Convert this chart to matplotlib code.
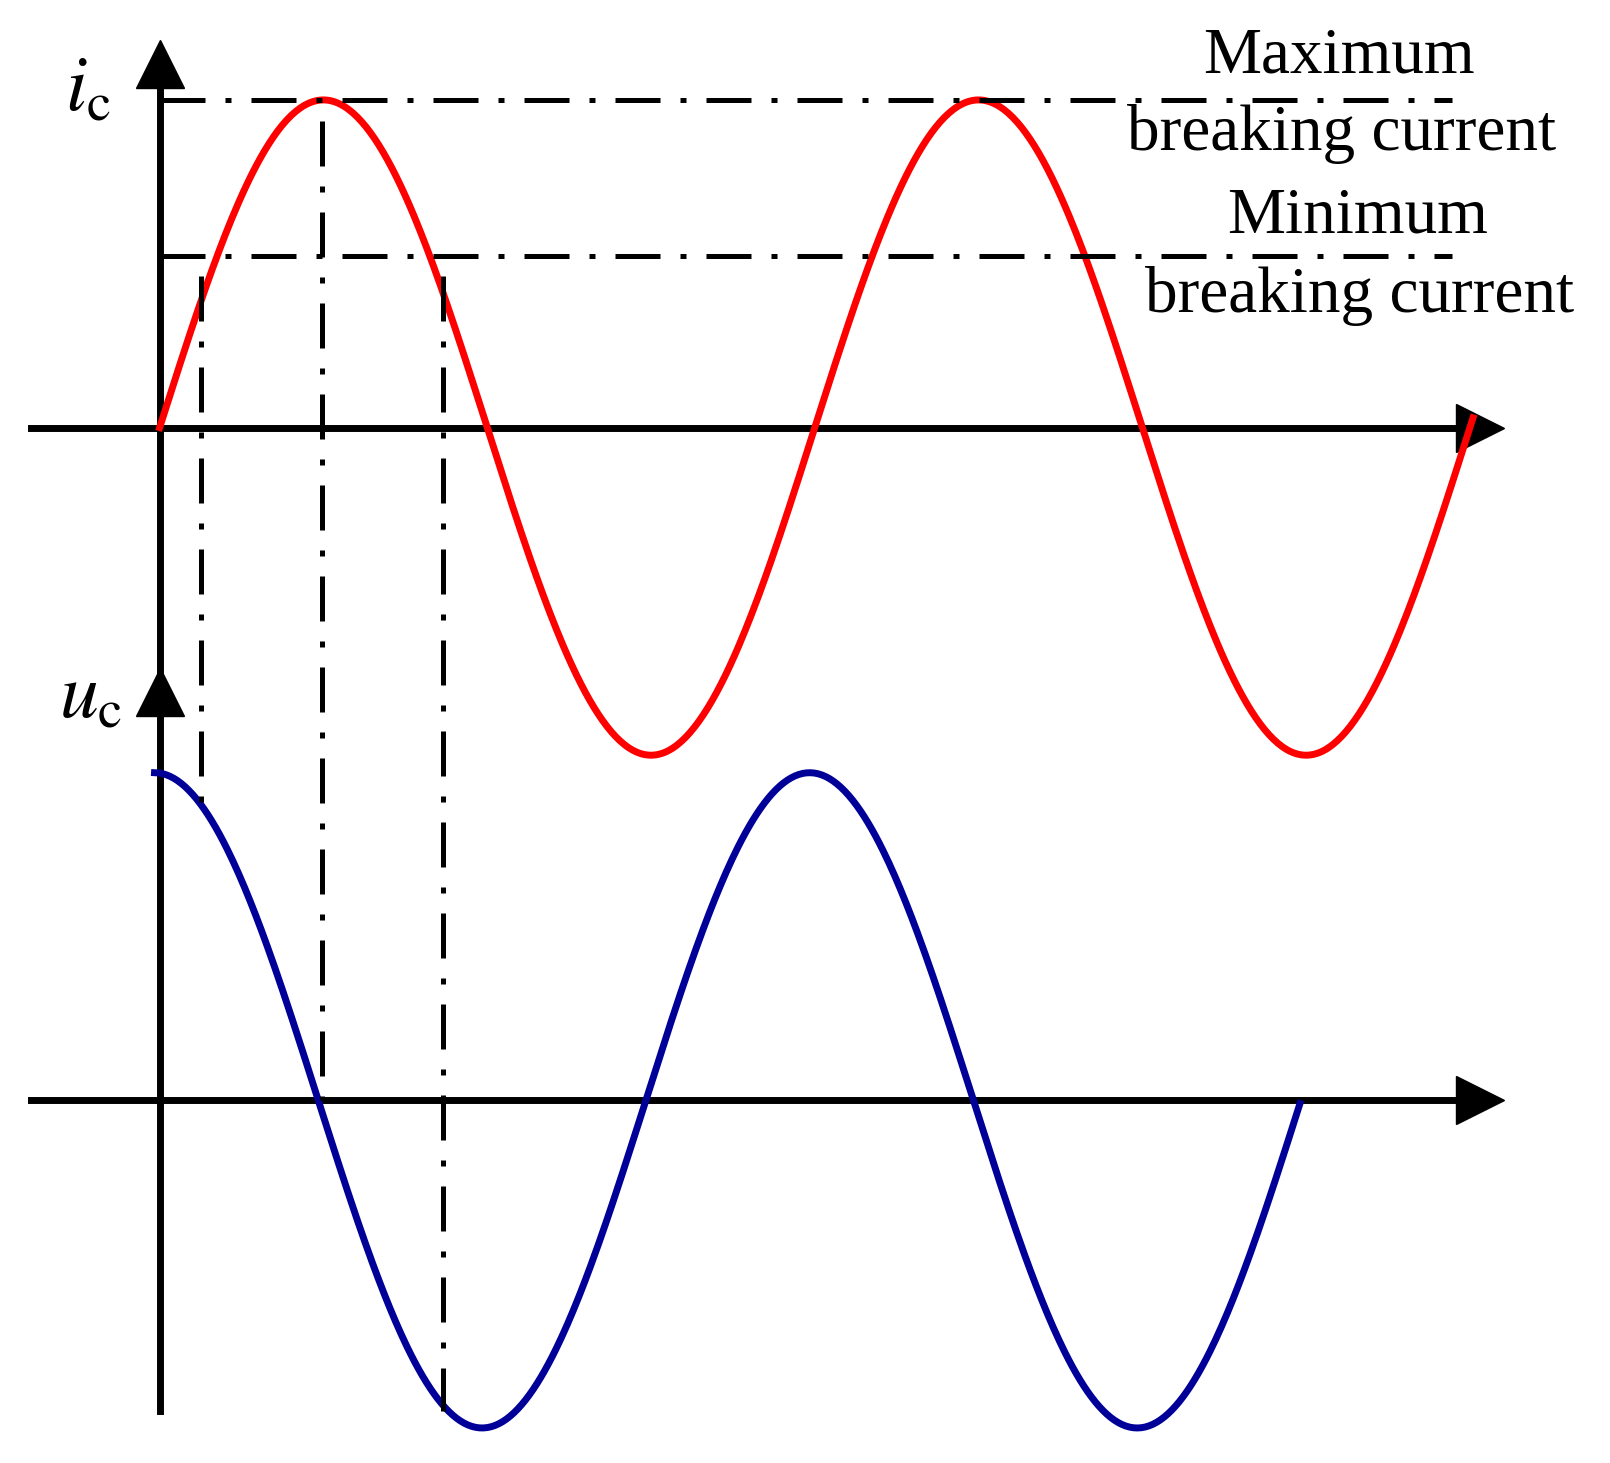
import numpy as np
import matplotlib.pyplot as plt

plt.rcParams['mathtext.fontset'] = 'stix'

# diagram geometry in reference pixel units (y grows downward)
x0 = 155
period = 636
amp = 318
i_axis_y = 415
u_axis_y = 1068
i_start, i_end = 155, 1430
u_start, u_end = 150, 1262
max_level = 97
min_level = 248
guide_x = [195, 313, 430]
guide_top = [248, 97, 248]
guide_bot = [780, 1068, 1370]

fig = plt.figure(figsize=(16.1, 14.63), dpi=100)
ax = fig.add_axes([0, 0, 1, 1])
ax.set_xlim(0, 1563)
ax.set_ylim(1420, 0)
ax.axis('off')

lw = 5
# axes
ax.plot([x0, x0], [1370, 60], color='black', lw=lw)
ax.plot([30, 1440], [i_axis_y, i_axis_y], color='black', lw=lw)
ax.plot([30, 1440], [u_axis_y, u_axis_y], color='black', lw=lw)
ax.plot([1437], [i_axis_y], marker='>', ms=34, color='black')
ax.plot([1437], [u_axis_y], marker='>', ms=34, color='black')
ax.plot([x0], [62], marker='^', ms=34, color='black')
ax.plot([x0], [672], marker='^', ms=34, color='black')

# curves
xi = np.linspace(i_start, i_end, 600)
ax.plot(xi, i_axis_y - amp * np.sin(2 * np.pi * (xi - x0) / period), color='#ff0000', lw=lw)
xu = np.linspace(u_start, u_end, 600)
ax.plot(xu, u_axis_y - amp * np.cos(2 * np.pi * (xu - u_start) / period), color='#000099', lw=lw)

# guide lines
ds = (0, (9, 4, 1.2, 4))
for lvl in (max_level, min_level):
    ax.plot([x0, 1410], [lvl, lvl], color='black', lw=3.6, linestyle=ds)
for gx, t, b in zip(guide_x, guide_top, guide_bot):
    ax.plot([gx, gx], [t + 20, b], color='black', lw=3.6, linestyle=ds)

# texts
tf = dict(family='Liberation Serif', fontsize=47, ha='center', va='center')
ax.text(1300, 55, 'Maximum', **tf)
ax.text(1302, 130, 'breaking current', **tf)
ax.text(1318, 210, 'Minimum', **tf)
ax.text(1320, 287, 'breaking current', **tf)
ax.text(85, 85, r'$i_{\mathrm{c}}$', fontsize=56, ha='center', va='center')
ax.text(88, 675, r'$u_{\mathrm{c}}$', fontsize=56, ha='center', va='center')

fig.savefig('out.png', dpi=100)
